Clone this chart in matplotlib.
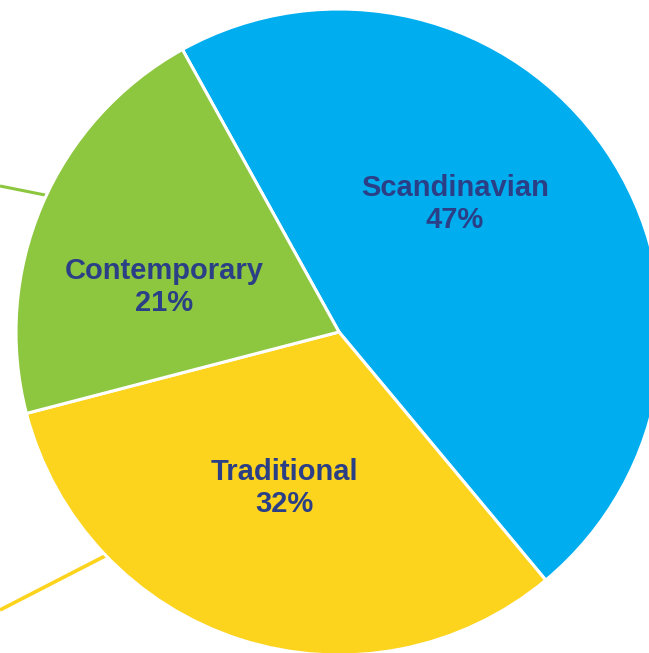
import matplotlib.pyplot as plt

styles = ["Scandinavian", "Traditional", "Contemporary"]
shares = [47, 32, 21]
colors = ["#00AEEF", "#FCD31D", "#8DC63F"]
text_color = "#2B3F86"

W, H = 649, 653
fig = plt.figure(figsize=(W / 100, H / 100), dpi=100)
ax = fig.add_axes([0, 0, 1, 1])

# pie is bigger than the canvas, so it gets clipped on the right/bottom
cx, cy, r = 339, H - 332, 323
wedges, _ = ax.pie(shares, colors=colors, startangle=119, counterclock=False,
                   center=(cx, cy), radius=r,
                   wedgeprops=dict(edgecolor="white", linewidth=2.2))

# leader lines coming in from the left edge
ax.plot([0, 80], [H - 186, H - 202], color="#8DC63F", lw=2.2, zorder=0,
        solid_capstyle="butt")
ax.plot([0, 140], [H - 610, H - 538], color="#FCD31D", lw=2.6, zorder=0,
        solid_capstyle="butt")

label_pos = {"Scandinavian": (455, 204), "Traditional": (284, 488),
             "Contemporary": (164, 287)}
for name, val in zip(styles, shares):
    x, y = label_pos[name]
    ax.text(x, H - y, f"{name}\n{val}%", ha="center", va="center",
            fontsize=21, fontweight="bold", color=text_color,
            family="Liberation Sans", linespacing=1.18)

ax.set_xlim(0, W)
ax.set_ylim(0, H)
ax.set_aspect("auto")
ax.axis("off")
fig.savefig("out.png", dpi=100)
